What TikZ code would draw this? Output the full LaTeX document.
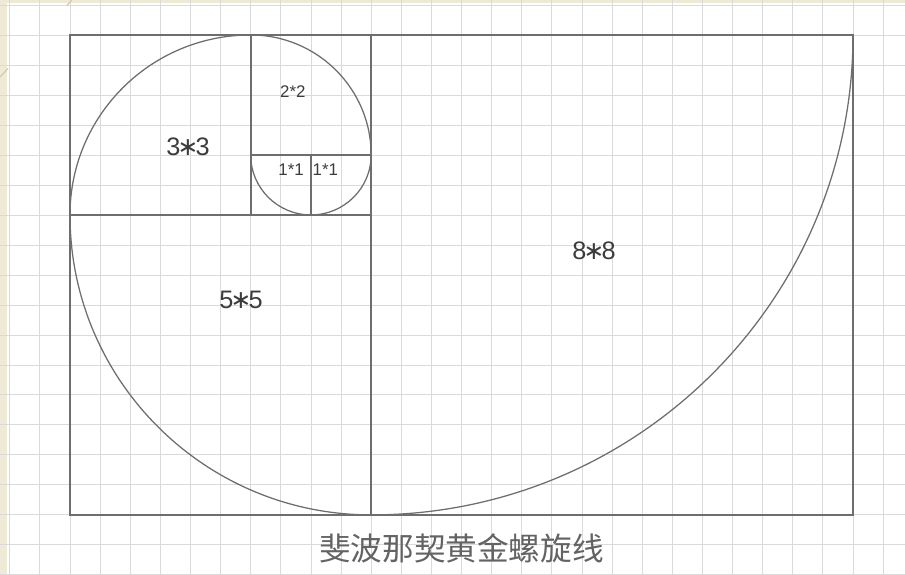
\documentclass[tikz,border=0pt]{standalone}
\usepackage{fontspec}
\setmainfont{Liberation Sans}
\newfontfamily\cjkfont{Noto Sans CJK SC}
\newfontfamily\astfont{DejaVu Sans}
\usepackage{tikz}
\usetikzlibrary{positioning,calc}

\definecolor{paper}{HTML}{EEEAD6}
\definecolor{deco}{HTML}{D6CDA4}
\definecolor{gridline}{HTML}{DADADA}
\definecolor{edge}{HTML}{6E6E6E}
\definecolor{ink}{HTML}{3C3C3C}

\newcommand{\bigast}{\kern-0.12em{\astfont ∗}\kern-0.12em}

\begin{document}
\begin{tikzpicture}[x=1.004cm,
  sq/.style={rectangle, draw=edge, line width=0.9pt, inner sep=0pt,
             outer sep=0pt, anchor=south west},
  spiral/.style={draw=edge, line width=0.6pt},
  biglbl/.style={font=\fontsize{12}{14}\selectfont, text=ink},
  smalllbl/.style={font=\fontsize{8}{10}\selectfont, text=ink},
  caption/.style={font=\cjkfont\fontsize{15}{18}\selectfont, text=ink!80}
]
  \useasboundingbox (-1.162,-1) rectangle (13.863,8.583);
  \fill[paper] (-1.162,-1) rectangle (13.863,8.583);
  \fill[white] (-1.045,-1) rectangle (13.863,8.533);
  \draw[gridline, line width=0.4pt] (-1.162,-1) grid[step=0.5] (13.863,8.583);
  \draw[deco, line width=0.6pt] (-1.162,7.3) -- (-1.03,7.44);
  \draw[deco, line width=0.6pt] (-0.05,8.493) -- (0.033,8.583);

  \node[sq, minimum width=5.02cm, minimum height=5cm] (s5) at (0,0) {};
  \node[sq, minimum width=8.032cm, minimum height=8cm] (s8) at (s5.south east) {};
  \node[sq, minimum width=3.012cm, minimum height=3cm] (s3) at (s5.north west) {};
  \node[sq, minimum width=1.004cm, minimum height=1cm] (s1a) at (s3.south east) {};
  \node[sq, minimum width=1.004cm, minimum height=1cm] (s1b) at (s1a.south east) {};
  \node[sq, minimum width=2.008cm, minimum height=2cm] (s2) at (s1a.north west) {};

  \draw[spiral] (s8.north east)
    arc[start angle=0, end angle=-90, radius=8]
    arc[start angle=-90, end angle=-180, radius=5]
    arc[start angle=180, end angle=90, radius=3]
    arc[start angle=90, end angle=0, radius=2]
    arc[start angle=0, end angle=-90, radius=1]
    arc[start angle=-90, end angle=-180, radius=1];

  \node[biglbl] (t8) at (8.7,4.4) {8\bigast8};
  \node[biglbl] (t5) at (2.84,3.58) {5\bigast5};
  \node[biglbl] (t3) at (1.96,6.13) {3\bigast3};
  \node[smalllbl] (t2) at (3.7,7.05) {2*2};
  \node[smalllbl] (t1a) at (3.67,5.75) {1*1};
  \node[smalllbl] (t1b) at (4.24,5.75) {1*1};

  \node[caption] (title) at (6.5,-0.55) {斐波那契黄金螺旋线};
\end{tikzpicture}
\end{document}
